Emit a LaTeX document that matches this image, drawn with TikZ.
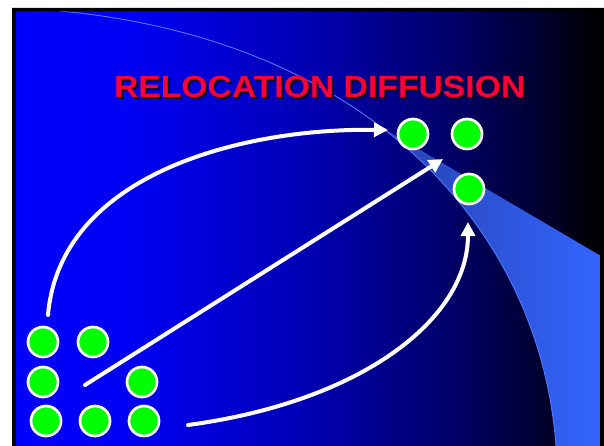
\documentclass[tikz,border=0pt]{standalone}
\usepackage{fontspec}
\setmainfont{Liberation Sans}
\usepackage{xcolor}
\usetikzlibrary{arrows.meta}
\definecolor{dotgreen}{RGB}{0,255,0}
\definecolor{titlered}{RGB}{255,0,51}
\definecolor{titleshade}{RGB}{10,0,40}
\definecolor{swooshline}{RGB}{80,120,255}
\definecolor{swooshdark}{RGB}{40,65,175}
\definecolor{swooshlight}{RGB}{51,102,255}
\pgfdeclarehorizontalshading{slidebg}{100bp}{rgb(0bp)=(0,0,1); rgb(25bp)=(0,0,1);
  rgb(35bp)=(0,0,0.95); rgb(50bp)=(0,0,0.7); rgb(62.5bp)=(0,0,0.4);
  rgb(70bp)=(0,0,0.18); rgb(75bp)=(0,0,0); rgb(100bp)=(0,0,0)}
% red title with a dark drop shadow, in one box
\newcommand{\shadowtitle}[1]{%
  \makebox[0pt][l]{\kern1.8pt\raisebox{-1.8pt}{\color{titleshade}#1}}#1}

\begin{document}
\begin{tikzpicture}[
    x=1pt,y=-1pt,
    dot/.style={circle,draw=white,fill=dotgreen,line width=2.7pt,
      minimum size=30pt,inner sep=0pt},
    flow/.style={-{Triangle[length=14pt,width=14pt]},white,line width=4pt,line cap=round},
    heading/.style={anchor=base,inner sep=0pt,xscale=1.105,text=titlered,
      font=\bfseries\fontsize{30.5}{30.5}\selectfont}
  ]
    \useasboundingbox (0,0) rectangle (604,446);

    % slide background
    \shade[shading=slidebg] (15,11) rectangle (600,446);
    \begin{scope}
      \clip (60,11) .. controls (370,40) and (540,230) .. (556,446)
        -- (604,446) -- (604,0) -- (60,0) -- cycle;
      \shade[left color=swooshdark,middle color=swooshlight,right color=swooshlight]
        (381,127) -- (604,257.8) -- (604,446) -- (381,446) -- cycle;
    \end{scope}
    \draw[swooshline,line width=0.9pt] (60,11) .. controls (370,40) and (540,230) .. (556,446);
    \fill[black,even odd rule] (12,8) rectangle (604,446) (15.5,11.5) rectangle (600,446);

    \node[heading] (title) at (319.7,97.7) {\shadowtitle{RELOCATION DIFFUSION}};

    \node[dot] (src1) at (43,342) {};
    \node[dot] (src2) at (93,342) {};
    \node[dot] (src3) at (43,382) {};
    \node[dot] (src4) at (142,382) {};
    \node[dot] (src5) at (46,421) {};
    \node[dot] (src6) at (95,421) {};
    \node[dot] (src7) at (144,421) {};

    \node[dot] (dst1) at (413,134) {};
    \node[dot] (dst2) at (467,134) {};
    \node[dot] (dst3) at (469,189) {};

    \coordinate (upstart) at (48,315);
    \coordinate (upend) at (388,130);
    \coordinate (midstart) at (85,385);
    \coordinate (midend) at (443,159);
    \coordinate (lowstart) at (188,425);
    \coordinate (lowend) at (468,222);

    \draw[flow] (upstart) .. controls (60,175) and (240,128) .. (upend);
    \draw[flow] (midstart) -- (midend);
    \draw[flow] (lowstart) .. controls (360,402) and (468,320) .. (lowend);
\end{tikzpicture}
\end{document}
